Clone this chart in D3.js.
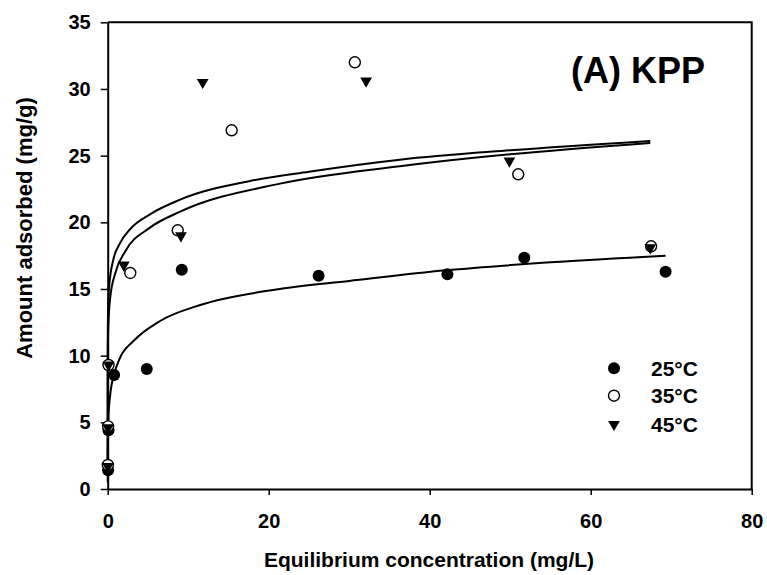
<!DOCTYPE html>
<html>
<head>
<meta charset="utf-8">
<script src="https://cdn.jsdelivr.net/npm/d3@7"></script>
<style>
  html, body { margin: 0; padding: 0; background: #fff; }
  svg { display: block; }
  text { font-family: "Liberation Sans", Arial, sans-serif; font-weight: bold; fill: #000; }
</style>
</head>
<body>
<div id="container"></div>
<script>
// ---------------------------------------------------------------------------
// Data
// ---------------------------------------------------------------------------

const seriesNames = ['25°C', '35°C', '45°C'];

// measured points [Ce (mg/L), qe (mg/g)]
const pts25 = [[0.05, 1.4], [0.1, 4.4], [0.8, 8.55], [4.85, 9.0], [9.2, 16.45],
               [26.2, 16.0], [42.2, 16.1], [51.75, 17.35], [69.3, 16.3]];
const pts35 = [[0.02, 1.8], [0.05, 4.7], [0.1, 9.3], [2.8, 16.2], [8.7, 19.4],
               [15.4, 26.9], [30.7, 32.0], [51.0, 23.6], [67.5, 18.2]];
const pts45 = [[0.02, 1.7], [0.05, 4.6], [0.1, 9.3], [2.0, 16.8], [9.1, 19.0],
               [11.8, 30.5], [32.1, 30.6], [49.9, 24.6], [67.4, 18.1]];

// fitted isotherm lines
const fit25 = [[0, 0.5], [0.02, 3], [0.1, 5.5], [0.3, 7.0], [0.8, 8.6], [1.5, 9.8],
               [3.2, 11.1], [6.5, 12.6], [11.5, 13.8], [21.4, 15.0], [30, 15.6],
               [42, 16.4], [55, 17.0], [69.3, 17.5]];
const fitUpper = [[0, 2], [0.001, 9.4], [0.01, 11.6], [0.05, 13.5], [0.2, 15.3], [0.7, 17.2],
                  [1.5, 18.4], [2.8, 19.5], [5.25, 20.6], [9, 21.7], [17.7, 23.1],
                  [25, 23.8], [36.3, 24.7], [50, 25.4], [67.4, 26.1]];
const fitLower = [[0, 1.5], [0.001, 7.6], [0.01, 9.8], [0.05, 11.7], [0.3, 14.3], [1, 16.3],
                  [2.15, 17.8], [5.25, 19.6], [9, 20.8], [21.4, 22.9], [36.3, 24.2],
                  [50, 25.1], [67.4, 25.95]];

const xTicks = [0, 20, 40, 60, 80];
const yTicks = [0, 5, 10, 15, 20, 25, 30, 35];

const xTitle = 'Equilibrium concentration (mg/L)';
const yTitle = 'Amount adsorbed (mg/g)';
const panelTitle = '(A) KPP';

// ---------------------------------------------------------------------------
// Layout
// ---------------------------------------------------------------------------

const W = 767, H = 575;
const plotL = 107.7, plotR = 751.7, plotT = 22.3, plotB = 489;

const svg = d3.select('#container').append('svg')
  .attr('width', W)
  .attr('height', H);

const x = d3.scaleLinear().domain([0, 80]).range([plotL, plotR]);
const y = d3.scaleLinear().domain([0, 35]).range([plotB, plotT]);

// ── Frame (top / right) ──────────────────────────────────────────────
svg.append('path')
  .attr('d', `M${plotL},${plotT} H${plotR} V${plotB}`)
  .attr('fill', 'none')
  .attr('stroke', '#000')
  .attr('stroke-width', 2);

// ── Axes ─────────────────────────────────────────────────────────────
const gx = svg.append('g')
  .attr('transform', `translate(0,${plotB})`)
  .call(d3.axisBottom(x).tickValues(xTicks).tickSize(6).tickPadding(19).tickSizeOuter(0));

const gy = svg.append('g')
  .attr('transform', `translate(${plotL},0)`)
  .call(d3.axisLeft(y).tickValues(yTicks).tickSize(7).tickPadding(10).tickSizeOuter(0));

[gx, gy].forEach((g) => {
  g.selectAll('path.domain').attr('stroke', '#000').attr('stroke-width', 2);
  g.selectAll('.tick line').attr('stroke', '#000').attr('stroke-width', 1.5);
  g.selectAll('.tick text')
    .attr('font-size', '20px')
    .attr('font-family', '"Liberation Sans", Arial, sans-serif')
    .attr('font-weight', 'bold')
    .attr('fill', '#000');
});

// ── Titles ───────────────────────────────────────────────────────────
svg.append('text')
  .attr('x', 429)
  .attr('y', 567)
  .attr('text-anchor', 'middle')
  .attr('font-size', '21px')
  .text(xTitle);

svg.append('text')
  .attr('transform', 'translate(32,228) rotate(-90)')
  .attr('text-anchor', 'middle')
  .attr('font-size', '22px')
  .text(yTitle);

svg.append('text')
  .attr('x', 705)
  .attr('y', 83)
  .attr('text-anchor', 'end')
  .attr('font-size', '36px')
  .text(panelTitle);

// ── Fitted lines ─────────────────────────────────────────────────────
const line = d3.line()
  .x((d) => x(d[0]))
  .y((d) => y(d[1]))
  .curve(d3.curveMonotoneX);

[fit25, fitUpper, fitLower].forEach((f) => {
  svg.append('path')
    .attr('d', line(f))
    .attr('fill', 'none')
    .attr('stroke', '#000')
    .attr('stroke-width', 2);
});

// ── Markers ──────────────────────────────────────────────────────────
const tri = d3.symbol().type(d3.symbolTriangle).size(60);

function filledCircle(g, cx, cy) {
  g.append('circle').attr('cx', cx).attr('cy', cy).attr('r', 6).attr('fill', '#000');
}
function openCircle(g, cx, cy) {
  g.append('circle').attr('cx', cx).attr('cy', cy).attr('r', 5.5)
    .attr('fill', '#fff').attr('stroke', '#000').attr('stroke-width', 1.4);
}
function downTriangle(g, cx, cy) {
  g.append('path').attr('d', tri())
    .attr('transform', `translate(${cx},${cy}) rotate(180)`)
    .attr('fill', '#000');
}
const markers = [filledCircle, openCircle, downTriangle];

const marks = svg.append('g');
[pts25, pts35, pts45].forEach((pts, i) => {
  pts.forEach((d) => markers[i](marks, x(d[0]), y(d[1])));
});

// ── Legend ───────────────────────────────────────────────────────────
const legend = svg.append('g');
const legendY = [368.3, 395.7, 424.3];
seriesNames.forEach((name, i) => {
  markers[i](legend, 614, legendY[i]);
  legend.append('text')
    .attr('x', 651)
    .attr('y', legendY[i] + 7.5)
    .attr('font-size', '21px')
    .text(name);
});
</script>
</body>
</html>
